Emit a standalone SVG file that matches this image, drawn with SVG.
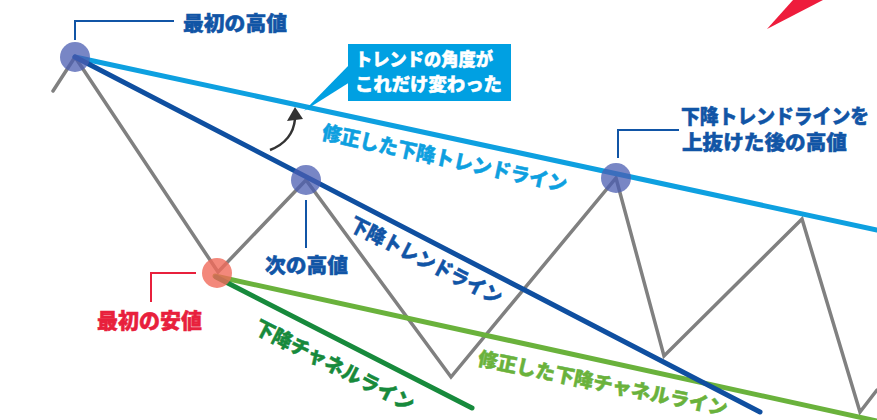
<svg xmlns="http://www.w3.org/2000/svg" width="877" height="420" viewBox="0 0 877 420">
<style>
text{font-family:"Noto Sans CJK JP","Noto Sans",sans-serif;font-weight:900;stroke-width:0.5;}
.db{fill:#1155a6;stroke:#1155a6;font-size:20px;}
.lb{fill:#0ea0e0;stroke:#0ea0e0;font-size:20px;}
.rd{fill:#e8203c;stroke:#e8203c;font-size:21px;}
.dg{fill:#178a3c;stroke:#178a3c;font-size:20px;}
.lg{fill:#6ab23c;stroke:#6ab23c;font-size:19.5px;}
.wh{fill:#ffffff;stroke:#ffffff;font-size:18px;}
.ln{fill:none;stroke-linecap:round;}
.lead{fill:none;stroke-width:2;}
.hi{fill:#4b5db2;opacity:0.75;}
</style>
<rect width="877" height="420" fill="#ffffff"/>
<polygon points="767,29 793,0 823,0" fill="#ee1c3c"/>
<g id="connectors">
<polyline class="ln" points="53,91 75,57 218,272 306,180 451,377 616,178 664,356 802,219 860,412 877,390" stroke="#808080" stroke-width="3.5" stroke-linejoin="miter"/>
<line class="ln" x1="215" y1="276" x2="877" y2="421" stroke="#6ab23c" stroke-width="5"/>
<line class="ln" x1="216" y1="277" x2="472" y2="408" stroke="#178a3c" stroke-width="5"/>
<line class="ln" x1="75" y1="57" x2="877" y2="230" stroke="#0ea0e0" stroke-width="5"/>
<line class="ln" x1="75" y1="57" x2="760" y2="412" stroke="#0f4fa0" stroke-width="5"/>
<path d="M270,150 Q293,141 295,119" fill="none" stroke="#333" stroke-width="2.5"/>
<polygon points="295,107 287,121 303,119" fill="#333"/>
<polyline class="lead" points="75,40 75,21 174,21" stroke="#1155a6"/>
<line class="lead" x1="306" y1="200" x2="306" y2="248" stroke="#1155a6"/>
<polyline class="lead" points="151,302 151,273 196,273" stroke="#e8203c"/>
<polyline class="lead" points="618,158 618,130 679,130" stroke="#1155a6"/>
</g>
<g id="first-high">
<circle class="hi" cx="75" cy="57" r="15"/>
<text class="db" x="183" y="30.5" font-size="21" textLength="104" lengthAdjust="spacingAndGlyphs">最初の高値</text>
</g>
<g id="next-high">
<circle class="hi" cx="306" cy="180" r="15"/>
<text class="db" x="265" y="273" font-size="21" textLength="83" lengthAdjust="spacingAndGlyphs">次の高値</text>
</g>
<g id="first-low">
<circle cx="217" cy="273" r="15" fill="#f06a5a" opacity="0.8"/>
<text class="rd" x="97" y="328" textLength="105" lengthAdjust="spacingAndGlyphs">最初の安値</text>
</g>
<g id="break-high">
<circle class="hi" cx="616" cy="178" r="15"/>
<text class="db" x="681" y="123.5" font-size="18" textLength="188" lengthAdjust="spacingAndGlyphs">下降トレンドラインを</text>
<text class="db" x="682" y="150" textLength="165" lengthAdjust="spacingAndGlyphs">上抜けた後の高値</text>
</g>
<g id="angle-callout">
<polygon points="350,64 350,82 304,111" fill="#00a0e2"/>
<rect x="348" y="44" width="163" height="57" fill="#00a0e2"/>
<text class="wh" x="355" y="65.5" textLength="138" lengthAdjust="spacingAndGlyphs">トレンドの角度が</text>
<text class="wh" x="355" y="91" textLength="147" lengthAdjust="spacingAndGlyphs">これだけ変わった</text>
</g>
<g id="line-labels">
<text class="lb" transform="translate(321,139) rotate(12.2)" textLength="250" lengthAdjust="spacingAndGlyphs">修正した下降トレンドライン</text>
<text class="db" font-size="19" transform="translate(348,229) rotate(27)" textLength="168" lengthAdjust="spacingAndGlyphs">下降トレンドライン</text>
<text class="dg" transform="translate(253,332) rotate(27)" textLength="176" lengthAdjust="spacingAndGlyphs">下降チャネルライン</text>
<text class="lg" transform="translate(477,365) rotate(11.5)" textLength="254" lengthAdjust="spacingAndGlyphs">修正した下降チャネルライン</text>
</g>
</svg>
